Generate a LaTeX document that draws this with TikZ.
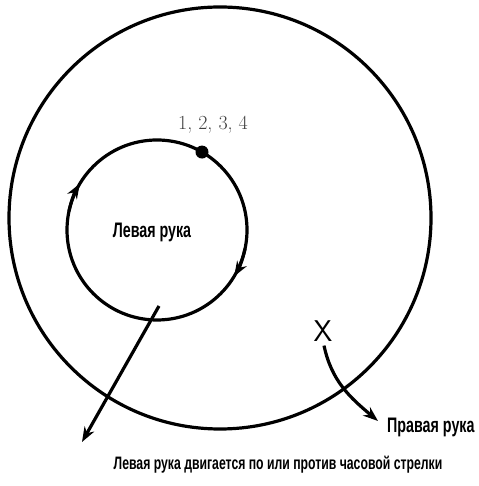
\documentclass[tikz,border=0pt]{standalone}
\usepackage{fontspec}
\usetikzlibrary{arrows.meta,positioning,calc}
\newfontfamily\handfont[FakeStretch=0.68]{Liberation Sans}

\begin{document}
\begin{tikzpicture}[
  x=1pt, y=1pt,
  ring/.style={draw, circle, line width=3.2pt, outer sep=0pt, inner sep=0pt},
  arr/.style={-{Stealth[length=15pt, width=11pt]}, line width=3.2pt},
  lbl/.style={font=\handfont\bfseries\fontsize{#1}{#1}\selectfont, inner sep=0pt},
  lbl/.default=16
]
  \useasboundingbox (0,0) rectangle (478,486);

  % the two rings
  \node[ring, minimum size=422pt] (outer) at (220,268) {};
  \node[ring, minimum size=180pt] (inner) at (157,256) {};

  % direction marks on the inner ring
  \draw[arr] (inner.168) arc[start angle=168, end angle=149, radius=90pt];
  \draw[arr] (inner.-12) arc[start angle=-12, end angle=-31, radius=90pt];

  \fill (inner.60) circle (6.5pt);
  \node[font=\fontsize{20}{20}\selectfont, text=black!75, inner sep=0pt]
    (count) at (213,361) {1, 2, 3, 4};

  \node[lbl=21] (left) at (152,254) {Левая рука};

  % right hand
  \node[font=\fontsize{30}{30}\selectfont\sffamily, inner sep=0pt] (cross) at (323,155) {X};
  \node[lbl=21, anchor=west] (right) at (387,59) {Правая рука};
  \coordinate (rend) at (378,65);
  \draw[arr] (cross.south) ++(1,-4) to[out=-78, in=140] (rend);

  % left hand
  \coordinate (lstart) at (159,180);
  \coordinate (lend) at (82,44);
  \draw[arr] (lstart) -- (lend);

  \node[lbl=18] (caption) at (278,21) {Левая рука двигается по или против часовой стрелки};
\end{tikzpicture}
\end{document}
